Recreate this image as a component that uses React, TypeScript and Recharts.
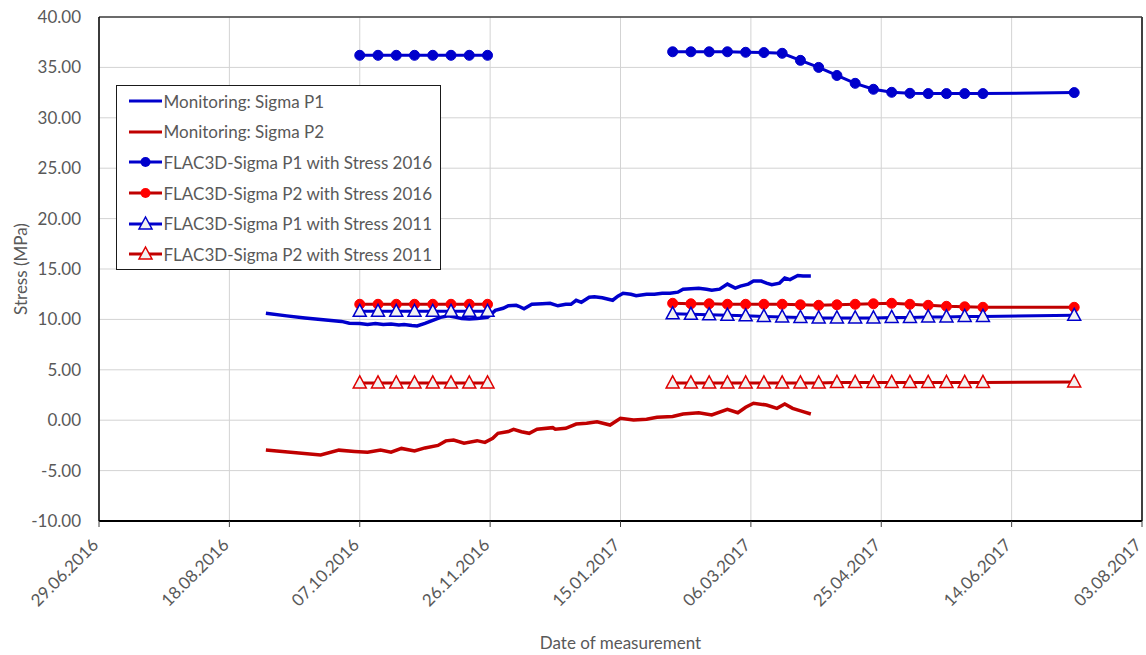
import React from 'react';
import { LineChart, Line, XAxis, YAxis, CartesianGrid, Legend, ReferenceLine } from 'recharts';

// Day 0 of the time axis is 29.06.2016; all x values are days after it.
const BASE_DATE = Date.UTC(2016, 5, 29);

const xTicks = [0, 50, 100, 150, 200, 250, 300, 350, 400];
const yTicks = [-10, -5, 0, 5, 10, 15, 20, 25, 30, 35, 40];

// Monitoring: Sigma P1
const monP1Days = [64, 72, 79, 87, 93, 96, 100, 103, 106, 109, 112, 115, 117, 120, 122, 125, 128, 131, 134, 137, 139, 142, 145, 149, 152, 155, 157, 160, 161, 163, 166, 170, 173, 176, 179, 181, 183, 185, 188, 190, 193, 197, 199, 201, 204, 206, 210, 213, 216, 219, 222, 224, 227, 230, 233, 235, 238, 241, 244, 246, 249, 251, 254, 256, 258, 261, 263, 265, 268, 270, 273];
const monP1Values = [10.6, 10.35, 10.15, 9.95, 9.8, 9.62, 9.6, 9.5, 9.6, 9.5, 9.55, 9.45, 9.5, 9.4, 9.35, 9.6, 9.9, 10.2, 10.35, 10.2, 10.1, 10.05, 10.1, 10.2, 10.9, 11.1, 11.35, 11.4, 11.3, 11.05, 11.5, 11.55, 11.6, 11.35, 11.5, 11.5, 11.9, 11.7, 12.2, 12.25, 12.15, 11.9, 12.3, 12.6, 12.5, 12.35, 12.5, 12.5, 12.6, 12.6, 12.7, 13.0, 13.05, 13.1, 13.0, 12.9, 13.0, 13.5, 13.1, 13.3, 13.5, 13.8, 13.8, 13.6, 13.45, 13.6, 14.1, 13.95, 14.35, 14.3, 14.3];

// Monitoring: Sigma P2
const monP2Days = [64, 85, 92, 98, 103, 108, 112, 116, 121, 125, 130, 133, 136, 140, 145, 148, 151, 153, 157, 159, 162, 165, 168, 174, 175, 179, 183, 187, 191, 196, 200, 205, 210, 214, 220, 224, 230, 235, 241, 245, 248, 251, 256, 260, 263, 266, 270, 273];
const monP2Values = [-2.95, -3.45, -2.97, -3.1, -3.18, -2.97, -3.18, -2.8, -3.05, -2.75, -2.5, -2.05, -1.97, -2.28, -2.03, -2.2, -1.8, -1.3, -1.12, -0.9, -1.14, -1.3, -0.9, -0.74, -0.9, -0.8, -0.38, -0.31, -0.15, -0.48, 0.19, 0.02, 0.09, 0.29, 0.36, 0.62, 0.74, 0.52, 1.08, 0.74, 1.28, 1.68, 1.51, 1.18, 1.61, 1.18, 0.85, 0.62];

// FLAC3D model results: two calculation runs with weekly output
const flacRun1Days = [100, 107, 114, 121, 128, 135, 142, 149];
const flacRun2Days = [220, 227, 234, 241, 248, 255, 262, 269, 276, 283, 290, 297, 304, 311, 318, 325, 332, 339, 374];

const flacP1s2016Run1 = [36.2, 36.2, 36.2, 36.2, 36.2, 36.2, 36.2, 36.2];
const flacP1s2016Run2 = [36.55, 36.55, 36.55, 36.55, 36.5, 36.47, 36.4, 35.7, 35.0, 34.2, 33.42, 32.83, 32.53, 32.43, 32.4, 32.4, 32.4, 32.4, 32.5];

const flacP2s2016Run1 = [11.5, 11.5, 11.5, 11.5, 11.5, 11.5, 11.5, 11.5];
const flacP2s2016Run2 = [11.6, 11.55, 11.55, 11.5, 11.5, 11.5, 11.5, 11.45, 11.4, 11.45, 11.5, 11.55, 11.6, 11.5, 11.4, 11.3, 11.25, 11.2, 11.2];

const flacP1s2011Run1 = [10.8, 10.8, 10.8, 10.8, 10.8, 10.8, 10.8, 10.8];
const flacP1s2011Run2 = [10.55, 10.5, 10.45, 10.4, 10.35, 10.3, 10.25, 10.2, 10.15, 10.15, 10.15, 10.15, 10.2, 10.2, 10.25, 10.25, 10.3, 10.3, 10.4];

const flacP2s2011Run1 = [3.7, 3.7, 3.7, 3.7, 3.7, 3.7, 3.7, 3.7];
const flacP2s2011Run2 = [3.7, 3.7, 3.7, 3.7, 3.7, 3.7, 3.7, 3.7, 3.7, 3.75, 3.75, 3.75, 3.75, 3.75, 3.75, 3.75, 3.75, 3.75, 3.8];

const seriesNames = [
  'Monitoring: Sigma P1',
  'Monitoring: Sigma P2',
  'FLAC3D-Sigma P1 with Stress 2016',
  'FLAC3D-Sigma P2 with Stress 2016',
  'FLAC3D-Sigma P1 with Stress 2011',
  'FLAC3D-Sigma P2 with Stress 2011',
];

const BLUE = '#0000CC';
const DARK_RED = '#C00000';
const RED = '#FF0000';
const TRI_RED = '#E00000';
const TRI_FILL = '#F2F2F2';
const TEXT = '#595959';
const FONT = "Lato, 'Open Sans', sans-serif";

type Pt = { day: number; v: number | null };

const toPoints = (days: number[], values: number[]): Pt[] => days.map((d, i) => ({ day: d, v: values[i] }));

// Joins the two runs with an empty point so the line breaks between them.
const flacSeries = (run1: number[], run2: number[]): Pt[] => [
  ...toPoints(flacRun1Days, run1),
  { day: (flacRun1Days[flacRun1Days.length - 1] + flacRun2Days[0]) / 2, v: null },
  ...toPoints(flacRun2Days, run2),
];

const monP1 = toPoints(monP1Days, monP1Values);
const monP2 = toPoints(monP2Days, monP2Values);
const flacP1s2016 = flacSeries(flacP1s2016Run1, flacP1s2016Run2);
const flacP2s2016 = flacSeries(flacP2s2016Run1, flacP2s2016Run2);
const flacP1s2011 = flacSeries(flacP1s2011Run1, flacP1s2011Run2);
const flacP2s2011 = flacSeries(flacP2s2011Run1, flacP2s2011Run2);

const pad = (n: number) => (n < 10 ? '0' + n : String(n));
const formatDate = (day: number) => {
  const t = new Date(BASE_DATE + day * 86400000);
  return `${pad(t.getUTCDate())}.${pad(t.getUTCMonth() + 1)}.${t.getUTCFullYear()}`;
};

const DateTick = (props: any) => {
  const { x, y, payload } = props;
  const ax = x + 0.5;
  const ay = y + 19;
  return (
    <text
      x={ax}
      y={ay}
      transform={`rotate(-45 ${ax} ${ay})`}
      textAnchor="end"
      fill={TEXT}
      fontSize={17}
      fontFamily={FONT}
    >
      {formatDate(payload.value)}
    </text>
  );
};

const trianglePoints = (cx: number, cy: number) =>
  `${cx},${cy - 7} ${cx - 6.5},${cy + 5} ${cx + 6.5},${cy + 5}`;

const makeTriangleDot = (stroke: string) => (props: any) => {
  const { cx, cy, index } = props;
  if (cx == null || cy == null || props.value == null || Number.isNaN(cy)) {
    return <g key={`tri-${index}`} />;
  }
  return (
    <polygon
      key={`tri-${index}`}
      points={trianglePoints(cx, cy)}
      fill={TRI_FILL}
      stroke={stroke}
      strokeWidth={1.5}
    />
  );
};

const makeCircleDot = (fill: string) => (props: any) => {
  const { cx, cy, index } = props;
  if (cx == null || cy == null || props.value == null || Number.isNaN(cy)) {
    return <g key={`dot-${index}`} />;
  }
  return <circle key={`dot-${index}`} cx={cx} cy={cy} r={5} fill={fill} stroke={fill} strokeWidth={1} />;
};

type LegendItem = { name: string; line: string; marker: 'none' | 'circle' | 'triangle'; markerColor: string };

const legendItems: LegendItem[] = [
  { name: seriesNames[0], line: BLUE, marker: 'none', markerColor: BLUE },
  { name: seriesNames[1], line: DARK_RED, marker: 'none', markerColor: DARK_RED },
  { name: seriesNames[2], line: BLUE, marker: 'circle', markerColor: BLUE },
  { name: seriesNames[3], line: DARK_RED, marker: 'circle', markerColor: RED },
  { name: seriesNames[4], line: BLUE, marker: 'triangle', markerColor: BLUE },
  { name: seriesNames[5], line: DARK_RED, marker: 'triangle', markerColor: TRI_RED },
];

const LegendBox = () => (
  <div
    style={{
      background: '#FFFFFF',
      border: '1.5px solid #1a1a1a',
      boxSizing: 'border-box',
      width: 325,
      height: 185,
      fontFamily: FONT,
      fontSize: 17,
      color: TEXT,
    }}
  >
    {legendItems.map((item) => (
      <div key={item.name} style={{ display: 'flex', alignItems: 'center', height: 30.6, paddingLeft: 10.5 }}>
        <svg width={35} height={20} style={{ flex: 'none' }}>
          <line x1={1} y1={10} x2={34} y2={10} stroke={item.line} strokeWidth={3} />
          {item.marker === 'circle' && <circle cx={17.5} cy={10} r={5} fill={item.markerColor} />}
          {item.marker === 'triangle' && (
            <polygon points={trianglePoints(17.5, 10)} fill={TRI_FILL} stroke={item.markerColor} strokeWidth={1.5} />
          )}
        </svg>
        <span style={{ marginLeft: 1, whiteSpace: 'nowrap' }}>{item.name}</span>
      </div>
    ))}
  </div>
);

const YTitle = (props: any) => {
  const vb = props.viewBox || { x: 0, y: 17, width: 99, height: 504 };
  const cx = 20;
  const cy = vb.y + vb.height / 2;
  return (
    <text
      x={cx}
      y={cy}
      transform={`rotate(-90 ${cx} ${cy})`}
      textAnchor="middle"
      dominantBaseline="central"
      fill={TEXT}
      fontSize={17}
      fontFamily={FONT}
    >
      Stress (MPa)
    </text>
  );
};

const XTitle = (props: any) => {
  const vb = props.viewBox || { x: 99, y: 521, width: 1043, height: 134 };
  return (
    <text
      x={vb.x + vb.width / 2}
      y={vb.y + 121}
      textAnchor="middle"
      dominantBaseline="central"
      fill={TEXT}
      fontSize={17}
      fontFamily={FONT}
    >
      Date of measurement
    </text>
  );
};

export default function App() {
  return (
    <div style={{ position: 'absolute', left: 0, top: 0, background: '#FFFFFF' }}>
      <LineChart width={1146} height={655} margin={{ top: 17, right: 4, bottom: 0, left: 0 }}>
        <CartesianGrid stroke="#D3D3D3" strokeWidth={1} />
        <XAxis
          type="number"
          dataKey="day"
          domain={[0, 400]}
          ticks={xTicks}
          allowDataOverflow
          height={134}
          tick={<DateTick />}
          tickSize={6}
          tickMargin={0}
          tickLine={{ stroke: '#404040', strokeWidth: 1 }}
          axisLine={{ stroke: '#000000', strokeWidth: 2 }}
          interval={0}
          label={<XTitle />}
        />
        <YAxis
          type="number"
          domain={[-10, 40]}
          ticks={yTicks}
          allowDataOverflow
          width={99}
          tickLine={false}
          tickSize={0}
          tickMargin={18}
          tickFormatter={(v: number) => v.toFixed(2)}
          tick={{ fill: TEXT, fontSize: 17, fontFamily: FONT }}
          axisLine={{ stroke: '#000000', strokeWidth: 1.5 }}
          interval={0}
          label={<YTitle />}
        />
        <ReferenceLine y={40} stroke="#404040" strokeWidth={1.5} />
        <ReferenceLine x={400} stroke="#404040" strokeWidth={2} />
        <Legend
          layout="vertical"
          align="center"
          verticalAlign="middle"
          content={<LegendBox />}
          wrapperStyle={{ left: 116, top: 85, width: 325, height: 185 }}
        />
        <Line
          data={monP1}
          dataKey="v"
          name={seriesNames[0]}
          type="linear"
          stroke={BLUE}
          strokeWidth={3.5}
          dot={false}
          activeDot={false}
          isAnimationActive={false}
        />
        <Line
          data={monP2}
          dataKey="v"
          name={seriesNames[1]}
          type="linear"
          stroke={DARK_RED}
          strokeWidth={3.5}
          dot={false}
          activeDot={false}
          isAnimationActive={false}
        />
        <Line
          data={flacP1s2016}
          dataKey="v"
          name={seriesNames[2]}
          type="linear"
          stroke={BLUE}
          strokeWidth={3}
          dot={makeCircleDot(BLUE)}
          activeDot={false}
          isAnimationActive={false}
        />
        <Line
          data={flacP2s2016}
          dataKey="v"
          name={seriesNames[3]}
          type="linear"
          stroke={DARK_RED}
          strokeWidth={3}
          dot={makeCircleDot(RED)}
          activeDot={false}
          isAnimationActive={false}
        />
        <Line
          data={flacP1s2011}
          dataKey="v"
          name={seriesNames[4]}
          type="linear"
          stroke={BLUE}
          strokeWidth={3}
          dot={makeTriangleDot(BLUE)}
          activeDot={false}
          isAnimationActive={false}
        />
        <Line
          data={flacP2s2011}
          dataKey="v"
          name={seriesNames[5]}
          type="linear"
          stroke={DARK_RED}
          strokeWidth={3}
          dot={makeTriangleDot(TRI_RED)}
          activeDot={false}
          isAnimationActive={false}
        />
      </LineChart>
    </div>
  );
}
